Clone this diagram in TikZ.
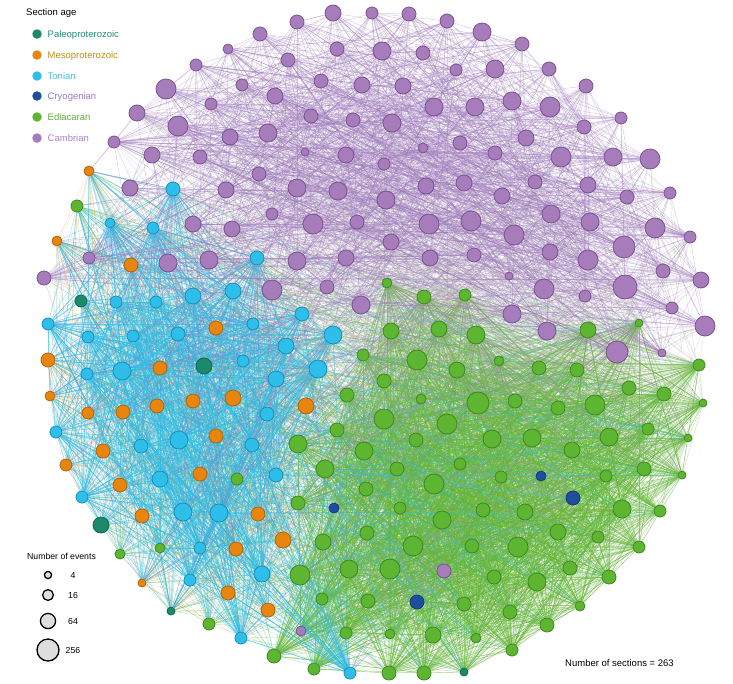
\documentclass[tikz,border=0pt]{standalone}
\usepackage{fontspec}
\setmainfont{Liberation Sans}
\pgfdeclarelayer{edgelayer}
\pgfsetlayers{edgelayer,main}
\definecolor{pfill}{HTML}{A67DBA}
\definecolor{pdraw}{HTML}{7B5192}
\definecolor{cfill}{HTML}{2DBFEA}
\definecolor{cdraw}{HTML}{1A8DB8}
\definecolor{gfill}{HTML}{5DB532}
\definecolor{gdraw}{HTML}{3C8A1F}
\definecolor{ofill}{HTML}{E8850E}
\definecolor{odraw}{HTML}{AD650B}
\definecolor{tfill}{HTML}{1A8A6A}
\definecolor{tdraw}{HTML}{0F6650}
\definecolor{nfill}{HTML}{1F4E9C}
\definecolor{ndraw}{HTML}{163A78}
\definecolor{pedge}{HTML}{9E7ABC}
\definecolor{cedge}{HTML}{30BDE8}
\definecolor{gedge}{HTML}{62B535}
\definecolor{oedge}{HTML}{D9923A}
\definecolor{tedge}{HTML}{2A9A7A}
\definecolor{nedge}{HTML}{8FA89A}
\definecolor{xedge}{HTML}{A3A8A0}
\definecolor{tpaleo}{HTML}{1C8C6E}
\definecolor{tmeso}{HTML}{B8921A}
\definecolor{tton}{HTML}{45BDE0}
\definecolor{tcryo}{HTML}{9C78C2}
\definecolor{tedi}{HTML}{5DAE3C}
\definecolor{tcamb}{HTML}{A884C4}
\definecolor{lgray}{HTML}{DEDEDE}
\newcount\gnodecnt
\newcommand\addgroup[3]{%
  \foreach \x/\y/\r in {#3}{%
    \global\advance\gnodecnt by 1\relax
    \node[netnode, fill=#1fill, draw=#1draw, minimum size={2*\r}] (n\the\gnodecnt) at (\x,\y) {};
    \expandafter\xdef\csname ncol\the\gnodecnt\endcsname{#2}%
  }}
\newcommand\linkset[6]{%
  \foreach \i in {#1,...,#2}{%
    \edef\ecol{\csname ncol\i\endcsname}%
    \foreach \k in {1,...,#5}{%
      \pgfmathrandominteger{\j}{#3}{#4}%
      \ifnum\j=\i\relax\else
        \draw[draw=\ecol, #6] (n\i) -- (n\j);
      \fi
    }}}
\tikzset{
  netnode/.style={circle, inner sep=0pt, line width=0.8pt},
  pedges/.style={line width=0.5pt, draw opacity=0.36},
  cedges/.style={line width=0.5pt, draw opacity=0.40},
  oedges/.style={line width=0.4pt, draw opacity=0.30},
  gedges/.style={line width=0.45pt, draw opacity=0.37},
  xedges/.style={line width=0.4pt, draw opacity=0.32},
  lgfont/.style={font=\fontsize{9.5}{11}\selectfont, inner sep=0pt},
  smfont/.style={font=\fontsize{8.7}{10}\selectfont, inner sep=0pt},
}
\begin{document}
\begin{tikzpicture}[x=1pt, y=-1pt]
\useasboundingbox (0,0) rectangle (733,683);
\pgfmathsetseed{2024}
% ---------- purple region ----------
\addgroup{p}{pedge}{260/34/7, 297/22/7, 333/13/8, 372/13/6, 409/14/7, 447/21/7, 482/32/9, 522/44/7, 288/60/7, 337/49/7, 382/51/9, 423/53/7, 456/70/6, 495/69/9, 549/69/7, 586/86/7, 321/81/7, 362/85/8, 403/86/8, 275/96/8, 434/107/9, 475/107/9, 512/101/9, 550/107/10, 621/118/6, 584/127/7, 311/116/7, 353/120/7, 392/123/9, 268/133/9, 460/143/7, 526/138/8, 305/152/4, 423/148/5, 495/153/7, 346/155/8, 561/157/10, 613/157/9, 650/159/10, 384/164/6, 259/174/7, 297/188/9, 338/191/9, 386/200/9, 426/186/8, 464/183/8, 535/182/7, 588/185/8, 627/197/7, 670/193/6, 502/196/8, 272/214/6, 313/224/10, 357/222/7, 429/224/10, 471/221/10, 551/214/9, 590/222/9, 655/228/10, 690/237/6, 514/235/10, 391/242/8, 297/261/9, 346/258/8, 430/258/8, 474/255/7, 550/252/8, 588/260/10, 624/247/11, 663/271/7, 701/280/8, 509/276/4, 272/290/10, 327/287/7, 361/305/9, 544/289/10, 585/296/6, 625/287/12, 672/308/6, 705/326/10, 512/314/9, 547/331/9, 617/352/11, 662/353/4, 228/49/5, 196/65/6, 166/89/10, 242/85/6, 211/104/6, 137/113/8, 178/126/10, 230/137/8, 114/142/6, 152/155/8, 200/157/7, 130/188/8, 226/190/8, 193/224/8, 232/229/8, 89/258/6, 168/263/9, 209/260/9, 44/278/7}
\edef\Pb{\the\gnodecnt}
% ---------- cyan region ----------
\pgfmathtruncatemacro\Ca{\Pb+1}
\addgroup{c}{cedge}{173/189/7, 110/223/5, 153/228/6, 257/258/7, 116/302/6, 156/302/6, 193/296/8, 233/291/8, 48/324/6, 88/337/6, 133/336/6, 178/334/7, 253/324/6, 87/374/6, 122/371/9, 243/361/6, 302/314/7, 333/335/9, 286/346/8, 318/369/9, 276/379/8, 267/414/7, 56/432/6, 141/446/7, 179/440/9, 252/445/7, 160/479/8, 276/475/7, 82/497/6, 183/512/9, 219/513/9, 200/548/6, 262/574/8, 190/580/6, 241/638/6, 350/673/6}
\edef\Cc{\the\gnodecnt}
\pgfmathtruncatemacro\Cd{\Cc+1}
\addgroup{o}{oedge}{89/171/5, 57/241/5, 131/265/7, 216/328/7, 48/360/7, 160/368/7, 50/396/5, 88/413/6, 123/412/7, 157/406/7, 193/401/7, 233/398/8, 306/406/8, 216/436/7, 103/451/7, 66/465/6, 120/485/7, 200/474/7, 142/516/7, 258/514/7, 283/540/8, 142/583/4, 236/549/7, 228/593/7, 268/610/7}
\addgroup{t}{tedge}{81/301/6, 204/366/8, 101/525/8, 171/611/4}
\addgroup{g}{gedge}{77/206/6, 120/554/5, 160/548/5, 237/479/6, 209/624/6}
\edef\Cb{\the\gnodecnt}
% ---------- green region ----------
\pgfmathtruncatemacro\Ga{\Cb+1}
\addgroup{g}{gedge}{387/283/5, 424/297/7, 465/295/6, 391/331/8, 439/329/8, 476/335/9, 588/330/8, 639/323/4, 363/355/6, 417/360/10, 457/370/8, 499/361/5, 539/368/7, 577/370/7, 699/365/6, 629/388/7, 664/394/7, 703/403/4, 347/395/7, 384/381/7, 421/399/5, 478/403/11, 515/401/7, 558/408/7, 595/405/10, 648/429/6, 688/438/4, 337/430/7, 384/419/10, 447/424/10, 416/440/7, 492/439/9, 532/438/9, 572/450/8, 609/437/9, 644/469/7, 682/475/4, 298/444/9, 364/451/9, 325/469/9, 397/469/7, 460/464/6, 606/476/6, 366/489/7, 434/484/10, 501/477/6, 622/509/9, 660/511/6, 298/503/7, 400/508/6, 442/520/9, 483/510/7, 525/512/8, 558/532/8, 598/537/6, 639/547/6, 323/542/8, 367/533/7, 413/546/10, 472/546/7, 518/547/10, 300/575/10, 349/569/9, 390/569/10, 494/577/7, 537/582/9, 570/568/7, 609/577/7, 322/599/6, 368/601/7, 464/604/7, 510/612/7, 547/625/7, 580/606/5, 346/633/6, 390/634/5, 433/635/8, 476/638/5, 512/650/6, 274/656/7, 314/669/6, 389/673/7, 424/673/7}
\addgroup{n}{nedge}{334/508/5, 541/476/5, 573/498/7, 417/602/7}
\addgroup{p}{gedge}{444/571/7, 301/631/5}
\addgroup{t}{gedge}{464/672/4}
\edef\Gb{\the\gnodecnt}
\pgfmathtruncatemacro\Gtop{\Ga+40}
% ---------- edges ----------
\begin{pgfonlayer}{edgelayer}
\linkset{\Ga}{\Gb}{\Ga}{\Gb}{46}{gedges}
\linkset{\Ga}{\Gb}{\Ca}{\Cb}{4}{gedges}
\linkset{\Cd}{\Cb}{\Ca}{\Cb}{14}{oedges}
\linkset{\Cd}{\Cb}{\Ga}{\Gb}{2}{oedges}
\linkset{\Ca}{\Cc}{\Ga}{\Gb}{5}{cedges}
\linkset{\Ca}{\Cc}{\Ca}{\Cb}{50}{cedges}
\linkset{1}{\Pb}{\Ga}{\Gtop}{4}{xedges, draw=xedge}
\linkset{\Ga}{\Gtop}{40}{\Pb}{3}{xedges, draw=xedge}
\linkset{1}{\Pb}{\Ca}{\Cb}{2}{pedges}
\linkset{1}{\Pb}{1}{\Pb}{13}{pedges}
\end{pgfonlayer}
% ---------- legends ----------
\node[lgfont, anchor=base west] (agetitle) at (26,15.5) {Section age};
\foreach \yy/\cc/\tc/\lab [count=\q] in {34/tfill/tpaleo/Paleoproterozoic, 55/ofill/tmeso/Mesoproterozoic, 76/cfill/tton/Tonian, 96/nfill/tcryo/Cryogenian, 117/gfill/tedi/Ediacaran, 138/pfill/tcamb/Cambrian}{
  \node[circle, inner sep=0pt, fill=\cc, minimum size=9.5] (agedot\q) at (37,\yy) {};
  \node[lgfont, anchor=base west, text=\tc] (agelab\q) at (47.5,\yy+3.4) {\lab};
}
\node[smfont, anchor=base west] (evtitle) at (27,559) {Number of events};
\foreach \yy/\rr/\lab [count=\q] in {575/3.6/4, 595/5.4/16, 621/7.6/64, 650/11/256}{
  \node[circle, inner sep=0pt, fill=lgray, draw=black, line width=1.3pt, minimum size={2*\rr}] (szdot\q) at (48,\yy) {};
  \node[smfont] (szlab\q) at (73,\yy) {\lab};
}
\node[lgfont, anchor=base west] (nsec) at (565,666.5) {Number of sections = 263};
\end{tikzpicture}
\end{document}
